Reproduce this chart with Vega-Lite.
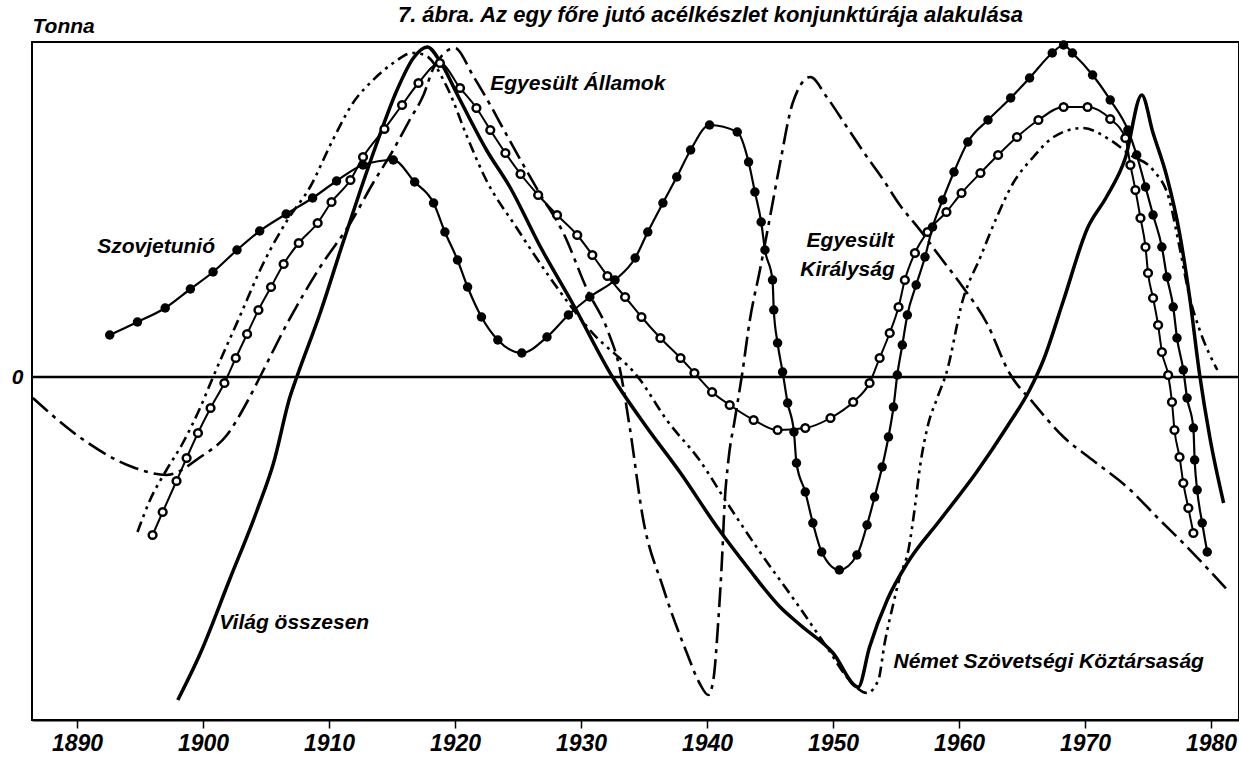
{
"$schema": "https://vega.github.io/schema/vega-lite/v6.json",
"width": 1207, "height": 678,
"autosize": {"type": "none"},
"padding": {"left": 32, "top": 42, "right": 0, "bottom": 40},
"background": "white",
"title": {"text": "7. ábra. Az egy főre jutó acélkészlet konjunktúrája alakulása", "anchor": "middle", "dx": 75, "offset": -29, "baseline": "alphabetic", "fontSize": 22, "font": "Liberation Sans", "fontStyle": "italic", "fontWeight": "bold", "color": "black"},
"config": {"view": {"stroke": "black", "strokeWidth": 2}},
"datasets": {
"series": [
{"series":"SU","year":1892.6,"value":42},{"series":"SU","year":1894.8,"value":55},{"series":"SU","year":1897.0,"value":69},{"series":"SU","year":1899.0,"value":88},{"series":"SU","year":1900.8,"value":105},{"series":"SU","year":1902.7,"value":127},{"series":"SU","year":1904.5,"value":146},{"series":"SU","year":1906.6,"value":163},{"series":"SU","year":1908.7,"value":179},{"series":"SU","year":1910.6,"value":196},{"series":"SU","year":1912.7,"value":212},{"series":"SU","year":1915.1,"value":217},{"series":"SU","year":1916.8,"value":195},{"series":"SU","year":1918.3,"value":174},{"series":"SU","year":1919.2,"value":145},{"series":"SU","year":1920.2,"value":117},{"series":"SU","year":1921.0,"value":90},{"series":"SU","year":1922.1,"value":60},{"series":"SU","year":1923.4,"value":37},{"series":"SU","year":1925.3,"value":24},{"series":"SU","year":1927.3,"value":40},{"series":"SU","year":1929.0,"value":62},{"series":"SU","year":1930.7,"value":80},{"series":"SU","year":1932.7,"value":97},{"series":"SU","year":1934.3,"value":119},{"series":"SU","year":1935.3,"value":145},{"series":"SU","year":1936.5,"value":174},{"series":"SU","year":1937.6,"value":200},{"series":"SU","year":1938.7,"value":227},{"series":"SU","year":1940.2,"value":252},{"series":"SU","year":1942.4,"value":245},{"series":"SU","year":1943.3,"value":215},{"series":"SU","year":1943.8,"value":185},{"series":"SU","year":1944.3,"value":155},{"series":"SU","year":1944.6,"value":127},{"series":"SU","year":1945.2,"value":97},{"series":"SU","year":1945.3,"value":67},{"series":"SU","year":1945.6,"value":34},{"series":"SU","year":1946.0,"value":5},{"series":"SU","year":1946.4,"value":-26},{"series":"SU","year":1946.9,"value":-55},{"series":"SU","year":1947.1,"value":-86},{"series":"SU","year":1947.8,"value":-115},{"series":"SU","year":1948.4,"value":-146},{"series":"SU","year":1949.1,"value":-175},{"series":"SU","year":1950.5,"value":-193},{"series":"SU","year":1951.9,"value":-178},{"series":"SU","year":1952.7,"value":-148},{"series":"SU","year":1953.3,"value":-120},{"series":"SU","year":1953.9,"value":-90},{"series":"SU","year":1954.4,"value":-60},{"series":"SU","year":1954.8,"value":-30},{"series":"SU","year":1955.1,"value":2},{"series":"SU","year":1955.5,"value":32},{"series":"SU","year":1955.9,"value":62},{"series":"SU","year":1956.6,"value":92},{"series":"SU","year":1957.3,"value":120},{"series":"SU","year":1957.9,"value":150},{"series":"SU","year":1958.7,"value":177},{"series":"SU","year":1959.6,"value":205},{"series":"SU","year":1960.7,"value":235},{"series":"SU","year":1962.3,"value":257},{"series":"SU","year":1964.1,"value":279},{"series":"SU","year":1965.6,"value":299},{"series":"SU","year":1967.4,"value":324},{"series":"SU","year":1968.3,"value":332},{"series":"SU","year":1969.0,"value":324},{"series":"SU","year":1970.6,"value":302},{"series":"SU","year":1972.0,"value":277},{"series":"SU","year":1973.4,"value":247},{"series":"SU","year":1974.1,"value":222},{"series":"SU","year":1974.8,"value":190},{"series":"SU","year":1975.4,"value":162},{"series":"SU","year":1976.1,"value":130},{"series":"SU","year":1976.5,"value":100},{"series":"SU","year":1977.0,"value":70},{"series":"SU","year":1977.3,"value":39},{"series":"SU","year":1977.8,"value":7},{"series":"SU","year":1978.1,"value":-21},{"series":"SU","year":1978.6,"value":-51},{"series":"SU","year":1978.7,"value":-83},{"series":"SU","year":1978.9,"value":-113},{"series":"SU","year":1979.3,"value":-146},{"series":"SU","year":1979.7,"value":-175},

{"series":"US","year":1896.0,"value":-158},{"series":"US","year":1896.8,"value":-135},{"series":"US","year":1897.9,"value":-104},{"series":"US","year":1898.7,"value":-81},{"series":"US","year":1899.6,"value":-56},{"series":"US","year":1900.6,"value":-31},{"series":"US","year":1901.7,"value":-6},{"series":"US","year":1902.6,"value":19},{"series":"US","year":1903.5,"value":43},{"series":"US","year":1904.4,"value":67},{"series":"US","year":1905.4,"value":90},{"series":"US","year":1906.4,"value":113},{"series":"US","year":1907.6,"value":134},{"series":"US","year":1909.1,"value":154},{"series":"US","year":1910.2,"value":175},{"series":"US","year":1911.7,"value":197},{"series":"US","year":1912.7,"value":220},{"series":"US","year":1914.4,"value":248},{"series":"US","year":1915.8,"value":272},{"series":"US","year":1917.1,"value":294},{"series":"US","year":1918.8,"value":314},{"series":"US","year":1920.4,"value":289},{"series":"US","year":1921.7,"value":269},{"series":"US","year":1922.8,"value":247},{"series":"US","year":1924.0,"value":224},{"series":"US","year":1925.2,"value":203},{"series":"US","year":1926.6,"value":182},{"series":"US","year":1928.1,"value":162},{"series":"US","year":1929.7,"value":142},{"series":"US","year":1930.9,"value":122},{"series":"US","year":1932.1,"value":101},{"series":"US","year":1933.5,"value":80},{"series":"US","year":1934.8,"value":60},{"series":"US","year":1936.3,"value":39},{"series":"US","year":1937.9,"value":19},{"series":"US","year":1939.0,"value":4},{"series":"US","year":1940.4,"value":-15},{"series":"US","year":1941.8,"value":-28},{"series":"US","year":1943.7,"value":-43},{"series":"US","year":1945.6,"value":-53},{"series":"US","year":1947.8,"value":-51},{"series":"US","year":1949.8,"value":-41},{"series":"US","year":1951.6,"value":-25},{"series":"US","year":1952.9,"value":-6},{"series":"US","year":1953.7,"value":19},{"series":"US","year":1954.5,"value":44},{"series":"US","year":1955.2,"value":70},{"series":"US","year":1955.7,"value":97},{"series":"US","year":1956.5,"value":124},{"series":"US","year":1957.5,"value":145},{"series":"US","year":1959.0,"value":165},{"series":"US","year":1960.2,"value":184},{"series":"US","year":1961.7,"value":204},{"series":"US","year":1963.1,"value":222},{"series":"US","year":1964.6,"value":240},{"series":"US","year":1966.3,"value":257},{"series":"US","year":1968.3,"value":270},{"series":"US","year":1970.2,"value":270},{"series":"US","year":1972.0,"value":258},{"series":"US","year":1973.2,"value":239},{"series":"US","year":1973.6,"value":212},{"series":"US","year":1974.0,"value":187},{"series":"US","year":1974.4,"value":159},{"series":"US","year":1974.8,"value":130},{"series":"US","year":1975.0,"value":104},{"series":"US","year":1975.4,"value":79},{"series":"US","year":1975.8,"value":52},{"series":"US","year":1976.1,"value":25},{"series":"US","year":1976.6,"value":2},{"series":"US","year":1976.9,"value":-25},{"series":"US","year":1977.1,"value":-53},{"series":"US","year":1977.5,"value":-80},{"series":"US","year":1977.8,"value":-106},{"series":"US","year":1978.2,"value":-131},{"series":"US","year":1978.6,"value":-156},

{"series":"W","year":1898.0,"value":-323},{"series":"W","year":1899.8,"value":-276},{"series":"W","year":1902.1,"value":-203},{"series":"W","year":1904.3,"value":-133},{"series":"W","year":1905.6,"value":-86},{"series":"W","year":1906.9,"value":-20},{"series":"W","year":1907.5,"value":2},{"series":"W","year":1909.3,"value":64},{"series":"W","year":1911.1,"value":134},{"series":"W","year":1912.5,"value":187},{"series":"W","year":1913.8,"value":234},{"series":"W","year":1915.4,"value":287},{"series":"W","year":1916.7,"value":319},{"series":"W","year":1917.8,"value":330},{"series":"W","year":1918.8,"value":316},{"series":"W","year":1920.2,"value":282},{"series":"W","year":1922.5,"value":227},{"series":"W","year":1924.4,"value":189},{"series":"W","year":1926.7,"value":132},{"series":"W","year":1929.4,"value":72},{"series":"W","year":1932.5,"value":0},{"series":"W","year":1935.2,"value":-50},{"series":"W","year":1937.9,"value":-96},{"series":"W","year":1940.8,"value":-150},{"series":"W","year":1943.2,"value":-190},{"series":"W","year":1945.8,"value":-230},{"series":"W","year":1947.4,"value":-248},{"series":"W","year":1950.0,"value":-276},{"series":"W","year":1952.0,"value":-310},{"series":"W","year":1952.9,"value":-270},{"series":"W","year":1954.3,"value":-223},{"series":"W","year":1955.9,"value":-186},{"series":"W","year":1958.5,"value":-143},{"series":"W","year":1961.4,"value":-95},{"series":"W","year":1963.8,"value":-50},{"series":"W","year":1965.6,"value":-13},{"series":"W","year":1966.7,"value":17},{"series":"W","year":1968.3,"value":77},{"series":"W","year":1970.2,"value":149},{"series":"W","year":1971.7,"value":180},{"series":"W","year":1973.2,"value":219},{"series":"W","year":1974.5,"value":282},{"series":"W","year":1975.4,"value":244},{"series":"W","year":1976.5,"value":200},{"series":"W","year":1977.5,"value":144},{"series":"W","year":1978.3,"value":80},{"series":"W","year":1979.1,"value":2},{"series":"W","year":1979.9,"value":-60},{"series":"W","year":1981.0,"value":-126},

{"series":"NSZK","year":1894.8,"value":-155},{"series":"NSZK","year":1895.8,"value":-123},{"series":"NSZK","year":1897.1,"value":-93},{"series":"NSZK","year":1898.4,"value":-66},{"series":"NSZK","year":1899.8,"value":-30},{"series":"NSZK","year":1900.8,"value":0},{"series":"NSZK","year":1902.9,"value":60},{"series":"NSZK","year":1904.8,"value":114},{"series":"NSZK","year":1906.7,"value":157},{"series":"NSZK","year":1908.5,"value":190},{"series":"NSZK","year":1910.3,"value":237},{"series":"NSZK","year":1911.9,"value":274},{"series":"NSZK","year":1913.5,"value":297},{"series":"NSZK","year":1915.1,"value":314},{"series":"NSZK","year":1916.6,"value":324},{"series":"NSZK","year":1917.6,"value":322},{"series":"NSZK","year":1919.4,"value":289},{"series":"NSZK","year":1921.0,"value":239},{"series":"NSZK","year":1922.4,"value":199},{"series":"NSZK","year":1924.9,"value":149},{"series":"NSZK","year":1927.5,"value":100},{"series":"NSZK","year":1930.7,"value":47},{"series":"NSZK","year":1934.7,"value":-3},{"series":"NSZK","year":1936.8,"value":-43},{"series":"NSZK","year":1939.4,"value":-83},{"series":"NSZK","year":1941.6,"value":-126},{"series":"NSZK","year":1944.2,"value":-175},{"series":"NSZK","year":1947.1,"value":-226},{"series":"NSZK","year":1949.5,"value":-270},{"series":"NSZK","year":1951.3,"value":-303},{"series":"NSZK","year":1952.7,"value":-316},{"series":"NSZK","year":1953.6,"value":-303},{"series":"NSZK","year":1954.1,"value":-266},{"series":"NSZK","year":1954.8,"value":-226},{"series":"NSZK","year":1955.3,"value":-200},{"series":"NSZK","year":1956.0,"value":-172},{"series":"NSZK","year":1956.5,"value":-130},{"series":"NSZK","year":1956.9,"value":-90},{"series":"NSZK","year":1957.5,"value":-50},{"series":"NSZK","year":1958.3,"value":-20},{"series":"NSZK","year":1959.0,"value":4},{"series":"NSZK","year":1960.3,"value":77},{"series":"NSZK","year":1961.7,"value":120},{"series":"NSZK","year":1963.0,"value":160},{"series":"NSZK","year":1964.3,"value":194},{"series":"NSZK","year":1965.9,"value":220},{"series":"NSZK","year":1967.5,"value":240},{"series":"NSZK","year":1969.8,"value":249},{"series":"NSZK","year":1972.0,"value":237},{"series":"NSZK","year":1973.6,"value":222},{"series":"NSZK","year":1975.4,"value":207},{"series":"NSZK","year":1976.7,"value":177},{"series":"NSZK","year":1977.5,"value":130},{"series":"NSZK","year":1978.3,"value":80},{"series":"NSZK","year":1979.1,"value":47},{"series":"NSZK","year":1980.5,"value":7},

{"series":"UK","year":1886.5,"value":-21},{"series":"UK","year":1890.2,"value":-60},{"series":"UK","year":1894.4,"value":-90},{"series":"UK","year":1897.1,"value":-98},{"series":"UK","year":1899.8,"value":-80},{"series":"UK","year":1901.9,"value":-58},{"series":"UK","year":1903.5,"value":-25},{"series":"UK","year":1904.8,"value":7},{"series":"UK","year":1906.7,"value":54},{"series":"UK","year":1909.3,"value":110},{"series":"UK","year":1911.7,"value":154},{"series":"UK","year":1913.5,"value":194},{"series":"UK","year":1915.1,"value":227},{"series":"UK","year":1916.4,"value":257},{"series":"UK","year":1917.5,"value":282},{"series":"UK","year":1918.3,"value":309},{"series":"UK","year":1920.0,"value":329},{"series":"UK","year":1921.4,"value":302},{"series":"UK","year":1922.8,"value":272},{"series":"UK","year":1924.1,"value":242},{"series":"UK","year":1925.2,"value":217},{"series":"UK","year":1926.7,"value":184},{"series":"UK","year":1928.6,"value":144},{"series":"UK","year":1930.5,"value":87},{"series":"UK","year":1932.1,"value":47},{"series":"UK","year":1933.1,"value":7},{"series":"UK","year":1933.9,"value":-53},{"series":"UK","year":1934.9,"value":-140},{"series":"UK","year":1936.5,"value":-210},{"series":"UK","year":1938.4,"value":-276},{"series":"UK","year":1939.4,"value":-306},{"series":"UK","year":1940.1,"value":-318},{"series":"UK","year":1940.5,"value":-303},{"series":"UK","year":1940.9,"value":-243},{"series":"UK","year":1941.2,"value":-180},{"series":"UK","year":1941.4,"value":-126},{"series":"UK","year":1941.7,"value":-83},{"series":"UK","year":1942.2,"value":-43},{"series":"UK","year":1942.8,"value":4},{"series":"UK","year":1943.4,"value":57},{"series":"UK","year":1944.2,"value":107},{"series":"UK","year":1945.0,"value":160},{"series":"UK","year":1945.8,"value":214},{"series":"UK","year":1946.8,"value":274},{"series":"UK","year":1948.2,"value":300},{"series":"UK","year":1949.5,"value":280},{"series":"UK","year":1951.1,"value":250},{"series":"UK","year":1952.7,"value":220},{"series":"UK","year":1954.0,"value":197},{"series":"UK","year":1955.3,"value":172},{"series":"UK","year":1956.9,"value":147},{"series":"UK","year":1958.5,"value":120},{"series":"UK","year":1960.3,"value":90},{"series":"UK","year":1962.2,"value":54},{"series":"UK","year":1964.0,"value":4},{"series":"UK","year":1965.9,"value":-26},{"series":"UK","year":1968.3,"value":-60},{"series":"UK","year":1970.6,"value":-83},{"series":"UK","year":1973.6,"value":-113},{"series":"UK","year":1975.7,"value":-140},{"series":"UK","year":1978.1,"value":-170},{"series":"UK","year":1981.3,"value":-213}
],
"labels": [
{"label":"Szovjetunió","year":1891.6,"value":130},
{"label":"Egyesült Államok","year":1922.8,"value":293},
{"label":"Egyesült","year":1947.9,"value":136},
{"label":"Királyság","year":1947.4,"value":107},
{"label":"Világ összesen","year":1901.3,"value":-246},
{"label":"Német Szövetségi Köztársaság","year":1954.8,"value":-285}
],
"zero": [{"year":1886.43,"value":0},{"year":1982.22,"value":0}]
},
"encoding": {
"x": {"field": "year", "type": "quantitative", "scale": {"domain": [1886.43, 1982.22], "nice": false, "zero": false},
 "axis": {"values": [1890,1900,1910,1920,1930,1940,1950,1960,1970,1980], "format": "d", "title": null, "grid": false, "domainColor": "black", "domainWidth": 2, "tickColor": "black", "tickWidth": 1.5, "tickSize": 8, "labelFontSize": 23, "labelFont": "Liberation Sans", "labelFontStyle": "italic", "labelFontWeight": "bold", "labelColor": "black", "labelPadding": 4}},
"y": {"field": "value", "type": "quantitative", "scale": {"domain": [-343, 335], "nice": false, "zero": false},
 "axis": {"values": [0], "title": "Tonna", "titleAngle": 0, "titleAlign": "left", "titleBaseline": "middle", "titleX": 0, "titleY": -16, "titleFontSize": 21, "titleFont": "Liberation Sans", "titleFontStyle": "italic", "titleFontWeight": "bold", "titleColor": "black", "domain": false, "ticks": false, "grid": false, "labelPadding": 9, "labelFontSize": 21, "labelFont": "Liberation Sans", "labelFontStyle": "italic", "labelFontWeight": "bold", "labelColor": "black"}}
},
"layer": [
{"data": {"name": "zero"}, "mark": {"type": "line", "color": "black", "strokeWidth": 2.5}},
{"data": {"name": "series"}, "transform": [{"filter": "datum.series === 'UK'"}], "mark": {"type": "line", "color": "black", "strokeWidth": 2.6, "interpolate": "monotone", "strokeDash": [20, 6, 4, 6]}},
{"data": {"name": "series"}, "transform": [{"filter": "datum.series === 'NSZK'"}], "mark": {"type": "line", "color": "black", "strokeWidth": 2.6, "interpolate": "monotone", "strokeDash": [11, 5, 3, 5, 3, 5]}},
{"data": {"name": "series"}, "transform": [{"filter": "datum.series === 'W'"}], "mark": {"type": "line", "color": "black", "strokeWidth": 3.5, "interpolate": "monotone"}},
{"data": {"name": "series"}, "transform": [{"filter": "datum.series === 'US'"}], "mark": {"type": "line", "color": "black", "strokeWidth": 2, "interpolate": "monotone"}},
{"data": {"name": "series"}, "transform": [{"filter": "datum.series === 'US'"}], "mark": {"type": "point", "shape": "circle", "filled": false, "fill": "white", "fillOpacity": 1, "stroke": "black", "strokeWidth": 2.5, "opacity": 1, "size": 60}},
{"data": {"name": "series"}, "transform": [{"filter": "datum.series === 'SU'"}], "mark": {"type": "line", "color": "black", "strokeWidth": 2.2, "interpolate": "monotone"}},
{"data": {"name": "series"}, "transform": [{"filter": "datum.series === 'SU'"}], "mark": {"type": "point", "shape": "circle", "filled": true, "color": "black", "opacity": 1, "size": 90}},
{"data": {"name": "labels"}, "mark": {"type": "text", "align": "left", "baseline": "middle", "font": "Liberation Sans", "fontSize": 21, "fontStyle": "italic", "fontWeight": "bold", "color": "black"}, "encoding": {"text": {"field": "label"}}}
]
}
